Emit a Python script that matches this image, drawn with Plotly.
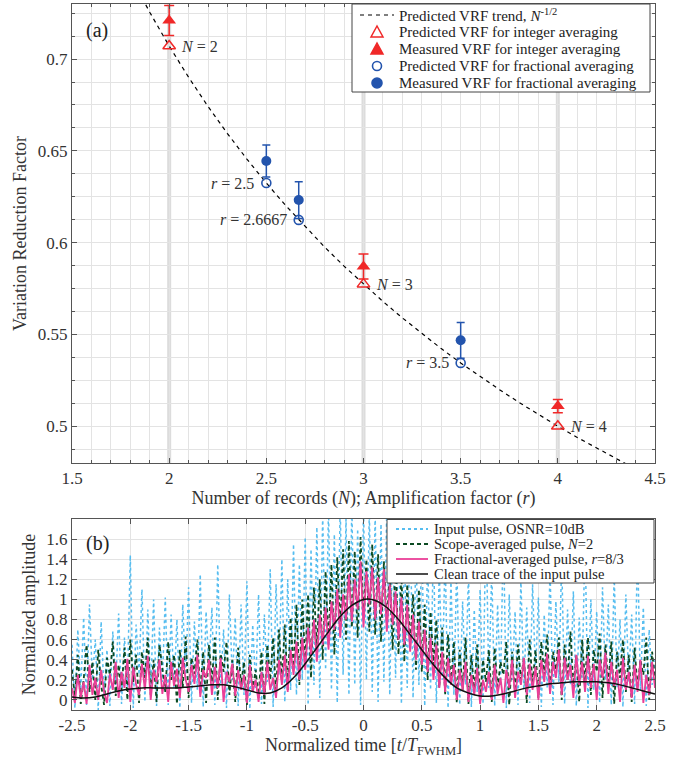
import numpy as np
import plotly.graph_objects as go

# ---------------- Top panel data ----------------
N_int = [2, 3, 4]
vrf_pred_int = [0.7071, 0.5774, 0.5000]
vrf_meas_int = [0.7210, 0.5870, 0.5110]
vrf_err_int = [0.0082, 0.0068, 0.0036]
int_labels = ["<i>N</i> = 2", "<i>N</i> = 3", "<i>N</i> = 4"]

r_frac = [2.5, 2.6667, 3.5]
vrf_pred_frac = [0.6325, 0.6124, 0.5345]
vrf_meas_frac = [0.6445, 0.6232, 0.5468]
vrf_err_frac = [0.0087, 0.0100, 0.0097]
frac_labels = ["<i>r</i> = 2.5", "<i>r</i> = 2.6667", "<i>r</i> = 3.5"]

trend_x = [1.5, 1.6, 1.7, 1.8, 1.9, 2.0, 2.1, 2.2, 2.3, 2.4, 2.5, 2.6, 2.7, 2.8, 2.9, 3.0,
           3.1, 3.2, 3.3, 3.4, 3.5, 3.6, 3.7, 3.8, 3.9, 4.0, 4.1, 4.2, 4.3, 4.4, 4.5]
trend_y = [0.8165, 0.7906, 0.7670, 0.7454, 0.7255, 0.7071, 0.6901, 0.6742, 0.6594, 0.6455,
           0.6325, 0.6202, 0.6086, 0.5976, 0.5872, 0.5774, 0.5680, 0.5590, 0.5505, 0.5423,
           0.5345, 0.5270, 0.5199, 0.5130, 0.5064, 0.5000, 0.4939, 0.4880, 0.4822, 0.4767, 0.4714]

top_xticks = [1.5, 2, 2.5, 3, 3.5, 4, 4.5]
top_xticktext = ["1.5", "2", "2.5", "3", "3.5", "4", "4.5"]
top_yticks = [0.5, 0.55, 0.6, 0.65, 0.7]
top_yticktext = ["0.5", "0.55", "0.6", "0.65", "0.7"]

top_legend_names = ["Predicted VRF trend, <i>N</i><sup>-1/2</sup>",
                    "Predicted VRF for integer averaging",
                    "Measured VRF for integer averaging",
                    "Predicted VRF for fractional averaging",
                    "Measured VRF for fractional averaging"]

# ---------------- Bottom panel data ----------------
t = np.round(np.linspace(-2.5, 2.5, 201), 4)

pink = [
    0.12, -0.03, 0.25, 0.02, 0.18, -0.04, 0.35, 0.05,
    0.22, 0.00, 0.30, 0.08, -0.03, 0.26, 0.10, 0.38,
    0.02, 0.28, 0.12, 0.41, -0.02, 0.33, 0.15, 0.05,
    0.36, 0.10, 0.44, 0.00, 0.30, 0.18, 0.40, 0.06,
    0.25, -0.02, 0.38, 0.14, 0.31, 0.02, 0.42, 0.20,
    0.08, 0.35, 0.16, 0.45, 0.03, 0.30, 0.22, 0.40,
    0.05, 0.33, 0.12, 0.42, -0.02, 0.28, 0.18, 0.36,
    0.04, 0.30, 0.10, 0.25, -0.03, 0.35, 0.08, 0.20,
    -0.02, 0.28, 0.05, 0.38, 0.10, 0.22, 0.02, 0.40,
    0.15, 0.45, 0.08, 0.50, 0.25, 0.58, 0.20, 0.62,
    0.30, 0.72, 0.45, 0.80, 0.38, 0.85, 0.55, 0.92,
    0.50, 0.98, 0.70, 1.10, 0.62, 1.05, 0.80, 1.25,
    0.78, 1.20, 0.90, 1.38, 0.72, 1.28, 0.95, 1.32,
    0.80, 1.22, 0.85, 1.30, 0.68, 1.15, 0.75, 1.08,
    0.60, 1.02, 0.55, 0.95, 0.48, 0.85, 0.40, 0.78,
    0.35, 0.70, 0.28, 0.62, 0.20, 0.55, 0.12, 0.48,
    0.08, 0.42, 0.15, 0.35, 0.00, 0.30, 0.10, 0.38,
    -0.02, 0.25, 0.05, 0.32, -0.04, 0.20, 0.08, 0.28,
    0.00, 0.35, 0.06, 0.22, -0.03, 0.30, 0.12, 0.40,
    0.02, 0.28, 0.15, 0.42, 0.05, 0.36, 0.10, 0.33,
    0.00, 0.40, 0.18, 0.46, 0.06, 0.38, 0.22, 0.50,
    0.05, 0.42, 0.20, 0.35, 0.02, 0.45, 0.15, 0.38,
    0.08, 0.44, 0.12, 0.36, 0.00, 0.40, 0.22, 0.47,
    0.06, 0.38, 0.14, 0.30, -0.02, 0.42, 0.10, 0.28,
    0.02, 0.35, 0.08, 0.40, -0.03, 0.25, 0.05, 0.38,
    0.12]

green = [
    0.30, 0.02, 0.45, -0.04, 0.20, 0.55, 0.08, 0.38,
    0.00, 0.50, 0.15, -0.05, 0.42, 0.25, 0.58, 0.04,
    0.35, 0.10, 0.52, 0.00, 0.60, 0.18, 0.45, -0.03,
    0.48, 0.22, 0.62, 0.05, 0.40, -0.02, 0.55, 0.30,
    0.08, 0.58, 0.20, 0.45, -0.04, 0.50, 0.12, 0.63,
    0.02, 0.42, 0.26, 0.60, 0.06, 0.48, -0.03, 0.55,
    0.18, 0.62, 0.00, 0.46, 0.28, 0.58, 0.05, 0.40,
    -0.02, 0.52, 0.15, 0.38, -0.05, 0.45, 0.10, 0.30,
    0.02, 0.48, -0.04, 0.55, 0.20, 0.62, 0.05, 0.70,
    0.18, 0.75, 0.10, 0.82, 0.30, 0.95, 0.15, 1.00,
    0.35, 1.05, 0.22, 1.12, 0.50, 1.20, 0.40, 1.28,
    0.55, 1.35, 0.45, 1.42, 0.70, 1.50, 0.60, 1.58,
    0.72, 1.48, 0.62, 1.62, 0.80, 1.40, 0.68, 1.55,
    0.65, 1.45, 0.58, 1.38, 0.75, 1.30, 0.50, 1.42,
    0.45, 1.25, 0.38, 1.15, 0.55, 1.05, 0.30, 1.10,
    0.28, 0.95, 0.20, 0.88, 0.35, 0.80, 0.12, 0.72,
    0.05, 0.65, 0.15, 0.58, -0.03, 0.50, 0.10, 0.62,
    -0.04, 0.45, 0.08, 0.55, 0.00, 0.40, 0.18, 0.50,
    -0.02, 0.52, 0.10, 0.38, 0.25, 0.58, -0.05, 0.48,
    0.06, 0.55, 0.20, 0.42, -0.03, 0.60, 0.15, 0.50,
    0.02, 0.58, 0.25, 0.65, 0.08, 0.48, 0.30, 0.62,
    0.00, 0.55, 0.20, 0.68, 0.12, 0.45, -0.02, 0.60,
    0.18, 0.62, 0.05, 0.50, 0.28, 0.66, 0.02, 0.55,
    0.15, 0.58, -0.04, 0.48, 0.22, 0.60, 0.08, 0.45,
    -0.02, 0.52, 0.12, 0.40, 0.25, 0.62, 0.00, 0.48,
    0.20]

blue = [
    0.55, -0.08, 0.70, 0.10, 0.82, -0.05, 0.95, 0.20,
    0.60, -0.10, 0.78, 0.05, 0.50, -0.06, 0.68, 0.15,
    0.86, -0.04, 0.62, 0.12, 1.44, -0.08, 0.75, 0.25,
    1.10, -0.02, 0.90, 0.08, 1.00, -0.06, 0.72, 0.18,
    1.02, -0.05, 0.85, 0.12, 0.80, -0.08, 0.95, 0.22,
    1.12, -0.03, 0.78, 0.10, 1.25, -0.07, 0.88, 0.30,
    0.92, -0.05, 1.35, 0.15, 0.70, -0.08, 1.05, 0.20,
    0.82, -0.06, 0.95, 0.05, 1.18, -0.09, 0.75, 0.12,
    1.05, -0.04, 0.85, 0.18, 1.30, -0.07, 1.15, 0.25,
    1.40, -0.02, 1.20, 0.10, 1.55, 0.05, 1.35, 0.20,
    1.62, -0.05, 1.50, 0.15, 1.72, 0.02, 1.85, 0.30,
    1.90, 0.10, 1.65, -0.03, 1.95, 0.25, 1.80, 0.05,
    1.95, 0.15, 1.70, -0.05, 1.92, 0.20, 1.88, 0.08,
    1.85, -0.02, 1.75, 0.18, 1.95, 0.05, 1.68, 0.22,
    1.80, -0.04, 1.58, 0.12, 1.90, 0.02, 1.50, 0.15,
    1.65, -0.06, 1.42, 0.10, 1.55, -0.03, 1.30, 0.20,
    1.45, -0.08, 1.20, 0.05, 1.35, -0.05, 0.98, 0.15,
    1.25, -0.07, 0.90, 0.08, 1.10, -0.04, 1.85, 0.12,
    1.30, -0.06, 0.95, 0.15, 1.70, -0.08, 1.05, 0.20,
    0.88, -0.05, 1.20, 0.10, 0.92, -0.03, 1.15, 0.25,
    1.02, -0.07, 0.85, 0.12, 1.30, -0.05, 0.98, 0.18,
    1.40, -0.04, 0.90, 0.15, 1.08, -0.06, 0.82, 0.22,
    1.62, -0.08, 1.00, 0.10, 0.88, -0.03, 1.12, 0.20,
    0.95, -0.05, 1.25, 0.12, 0.80, -0.07, 1.05, 0.18,
    0.85, -0.04, 1.55, 0.10, 0.92, -0.06, 0.70, 0.15,
    0.40]

t_clean = [-2.5, -2.4, -2.3, -2.2, -2.1, -2.0, -1.9, -1.8, -1.7, -1.6, -1.5, -1.4, -1.3, -1.2,
           -1.1, -1.0, -0.9, -0.8, -0.7, -0.6, -0.5, -0.4, -0.3, -0.2, -0.1, 0.0, 0.1, 0.2,
           0.3, 0.4, 0.5, 0.6, 0.7, 0.8, 0.9, 1.0, 1.1, 1.2, 1.3, 1.4, 1.5, 1.6, 1.7, 1.8,
           1.9, 2.0, 2.1, 2.2, 2.3, 2.4, 2.5]
clean = [0.03, 0.02, 0.03, 0.06, 0.09, 0.11, 0.12, 0.12, 0.12, 0.12, 0.13, 0.14, 0.15, 0.15,
         0.13, 0.10, 0.07, 0.07, 0.12, 0.22, 0.36, 0.52, 0.68, 0.83, 0.94, 1.00, 0.99, 0.92,
         0.80, 0.65, 0.50, 0.35, 0.22, 0.12, 0.07, 0.04, 0.04, 0.06, 0.09, 0.12, 0.14, 0.16,
         0.17, 0.18, 0.18, 0.18, 0.17, 0.15, 0.12, 0.09, 0.06]

bot_xticks = [-2.5, -2, -1.5, -1, -0.5, 0, 0.5, 1, 1.5, 2, 2.5]
bot_xticktext = ["-2.5", "-2", "-1.5", "-1", "-0.5", "0", "0.5", "1", "1.5", "2", "2.5"]
bot_yticks = [0, 0.2, 0.4, 0.6, 0.8, 1.0, 1.2, 1.4, 1.6]
bot_yticktext = ["0", "0.2", "0.4", "0.6", "0.8", "1", "1.2", "1.4", "1.6"]

bot_legend_names = ["Input pulse, OSNR=10dB",
                    "Scope-averaged pulse, <i>N</i>=2",
                    "Fractional-averaged pulse, <i>r</i>=8/3",
                    "Clean trace of the input pulse"]

# ---------------- Styles ----------------
FONT = "Liberation Serif"
RED = "#f02828"
BLUE = "#2354ad"
C_IN = "#55bdf0"
C_SC = "#0b4a22"
C_FR = "#ea3f97"
C_CL = "#111111"
GRID = "#e3e3e3"
AXC = "#555555"
TXT = "#333333"

W, H = 692, 761
ML, MR, MT, MB = 72, 37, 4, 51
PW, PH = W - ML - MR, H - MT - MB


def px(x):
    return (x - ML) / PW


def py(y):
    return (H - MB - y) / PH


fig = go.Figure()

# highlight lines at integer N
shapes = []
for n in N_int:
    shapes.append(dict(type="line", xref="x", yref="y domain", x0=n, x1=n, y0=0, y1=1,
                       line=dict(color="#dcdcdc", width=4), layer="below"))

fig.add_trace(go.Scatter(x=trend_x, y=trend_y, mode="lines", xaxis="x", yaxis="y",
                         line=dict(color="black", width=1.2, dash="4px,4px"),
                         showlegend=False))
fig.add_trace(go.Scatter(x=N_int, y=vrf_pred_int, mode="markers", xaxis="x", yaxis="y",
                         marker=dict(symbol="triangle-up-open", size=11, color=RED,
                                     line=dict(width=1.5, color=RED)),
                         showlegend=False))
fig.add_trace(go.Scatter(x=N_int, y=vrf_meas_int, mode="markers", xaxis="x", yaxis="y",
                         marker=dict(symbol="triangle-up", size=12, color=RED),
                         error_y=dict(type="data", array=vrf_err_int, color=RED,
                                      thickness=1.5, width=5),
                         showlegend=False))
fig.add_trace(go.Scatter(x=r_frac, y=vrf_pred_frac, mode="markers", xaxis="x", yaxis="y",
                         marker=dict(symbol="circle-open", size=9, color=BLUE,
                                     line=dict(width=1.6, color=BLUE)),
                         showlegend=False))
fig.add_trace(go.Scatter(x=r_frac, y=vrf_meas_frac, mode="markers", xaxis="x", yaxis="y",
                         marker=dict(symbol="circle", size=10, color=BLUE),
                         error_y=dict(type="data", array=vrf_err_frac, color=BLUE,
                                      thickness=1.5, width=4),
                         showlegend=False))

# bottom panel traces
fig.add_trace(go.Scatter(x=t, y=blue, mode="lines", xaxis="x2", yaxis="y2",
                         line=dict(color=C_IN, width=1.5, dash="dot"), showlegend=False))
fig.add_trace(go.Scatter(x=t, y=green, mode="lines", xaxis="x2", yaxis="y2",
                         line=dict(color=C_SC, width=1.8, dash="4px,3px"), showlegend=False))
fig.add_trace(go.Scatter(x=t, y=pink, mode="lines", xaxis="x2", yaxis="y2",
                         line=dict(color=C_FR, width=1.8), showlegend=False))
fig.add_trace(go.Scatter(x=t_clean, y=clean, mode="lines", xaxis="x2", yaxis="y2",
                         line=dict(color=C_CL, width=1.5, shape="spline"), showlegend=False))

ann = []
for xv, yv, lab in zip(N_int, vrf_pred_int, int_labels):
    ann.append(dict(x=xv, y=yv, xref="x", yref="y", text=lab, showarrow=False,
                    xanchor="left", yanchor="middle", xshift=10,
                    font=dict(family=FONT, size=16, color=TXT)))
for xv, yv, lab in zip(r_frac, vrf_pred_frac, frac_labels):
    ann.append(dict(x=xv, y=yv, xref="x", yref="y", text=lab, showarrow=False,
                    xanchor="right", yanchor="middle", xshift=-10,
                    font=dict(family=FONT, size=16, color=TXT)))
ann.append(dict(x=0.043, y=0.943, xref="x domain", yref="y domain", text="(a)",
                showarrow=False, xanchor="center", yanchor="middle",
                font=dict(family=FONT, size=20, color="#222")))
ann.append(dict(x=0.043, y=0.874, xref="x2 domain", yref="y2 domain", text="(b)",
                showarrow=False, xanchor="center", yanchor="middle",
                font=dict(family=FONT, size=20, color="#222")))

# ---------- hand-built legends (compact, like the original) ----------
# top legend
rows_top = [15, 32, 49, 66, 83]
shapes.append(dict(type="rect", xref="paper", yref="paper", x0=px(352), x1=px(650),
                   y0=py(92), y1=py(4), fillcolor="white", line=dict(color="#444", width=1),
                   layer="above"))
for yrow, name in zip(rows_top, top_legend_names):
    ann.append(dict(x=px(397), y=py(yrow), xref="paper", yref="paper", text=name,
                    showarrow=False, xanchor="left", yanchor="middle",
                    font=dict(family=FONT, size=15, color="#222")))
shapes.append(dict(type="line", xref="paper", yref="paper", x0=px(360), x1=px(394),
                   y0=py(rows_top[0]), y1=py(rows_top[0]),
                   line=dict(color="black", width=1.2, dash="4px,4px"), layer="above"))


def tri(cx, cy, filled, color):
    path = "M {} {} L {} {} L {} {} Z".format(px(cx - 6), py(cy + 5), px(cx + 6), py(cy + 5),
                                             px(cx), py(cy - 6))
    return dict(type="path", xref="paper", yref="paper", path=path,
                fillcolor=color if filled else "white",
                line=dict(color=color, width=1.5), layer="above")


def circ(cx, cy, r, filled, color):
    return dict(type="circle", xref="paper", yref="paper", x0=px(cx - r), x1=px(cx + r),
                y0=py(cy + r), y1=py(cy - r), fillcolor=color if filled else "white",
                line=dict(color=color, width=1.6), layer="above")


shapes.append(tri(377, rows_top[1], False, RED))
shapes.append(tri(377, rows_top[2], True, RED))
shapes.append(circ(377, rows_top[3], 4.5, False, BLUE))
shapes.append(circ(377, rows_top[4], 5, True, BLUE))

# bottom legend
shapes.append(dict(type="rect", xref="paper", yref="paper", x0=px(387), x1=px(654),
                   y0=py(583), y1=py(519.5), fillcolor="white", line=dict(color="#444", width=1),
                   layer="above"))
rows_bot = [529, 544, 559, 574]
bot_styles = [dict(color=C_IN, width=1.8, dash="dot"),
              dict(color=C_SC, width=1.8, dash="4px,3px"),
              dict(color=C_FR, width=1.8),
              dict(color=C_CL, width=1.5)]
for yrow, name, st in zip(rows_bot, bot_legend_names, bot_styles):
    ann.append(dict(x=px(432), y=py(yrow), xref="paper", yref="paper", text=name,
                    showarrow=False, xanchor="left", yanchor="middle",
                    font=dict(family=FONT, size=14.5, color="#222")))
    shapes.append(dict(type="line", xref="paper", yref="paper", x0=px(396), x1=px(428),
                       y0=py(yrow), y1=py(yrow), line=st, layer="above"))

axis_common = dict(showline=True, linecolor=AXC, linewidth=1, mirror="ticks",
                   ticks="inside", ticklen=5, tickcolor=AXC, gridcolor=GRID, gridwidth=1,
                   zeroline=False, tickfont=dict(family=FONT, size=17, color=TXT))

fig.update_layout(
    width=W, height=H,
    margin=dict(l=ML, r=MR, t=MT, b=MB),
    paper_bgcolor="white", plot_bgcolor="white",
    font=dict(family=FONT, color=TXT),
    showlegend=False,
    annotations=ann,
    shapes=shapes,
    xaxis=dict(domain=[0, 1], anchor="y", range=[1.5, 4.5], tickvals=top_xticks,
               ticktext=top_xticktext,
               minor=dict(dtick=0.1, tick0=1.5, showgrid=True, gridcolor=GRID,
                          ticks="inside", ticklen=3, tickcolor=AXC),
               title=dict(text="Number of records (<i>N</i>); Amplification factor (<i>r</i>)",
                          font=dict(family=FONT, size=18, color=TXT), standoff=4),
               **axis_common),
    yaxis=dict(domain=[0.3499, 1], anchor="x", range=[0.48, 0.73], tickvals=top_yticks,
               ticktext=top_yticktext,
               minor=dict(dtick=0.0125, tick0=0.5, showgrid=True, gridcolor=GRID,
                          ticks="inside", ticklen=3, tickcolor=AXC),
               title=dict(text="Variation Reduction Factor",
                          font=dict(family=FONT, size=18, color=TXT), standoff=6),
               **axis_common),
    xaxis2=dict(domain=[0, 1], anchor="y2", range=[-2.5, 2.5], tickvals=bot_xticks,
                ticktext=bot_xticktext,
                title=dict(text="Normalized time [<i>t</i>/<i>T</i><sub>FWHM</sub>]",
                           font=dict(family=FONT, size=18, color=TXT), standoff=2),
                **axis_common),
    yaxis2=dict(domain=[0, 0.2705], anchor="x2", range=[-0.1, 1.8], tickvals=bot_yticks,
                ticktext=bot_yticktext,
                title=dict(text="Normalized amplitude",
                           font=dict(family=FONT, size=18, color=TXT), standoff=6),
                **axis_common),
)

fig.write_html("out.html")
